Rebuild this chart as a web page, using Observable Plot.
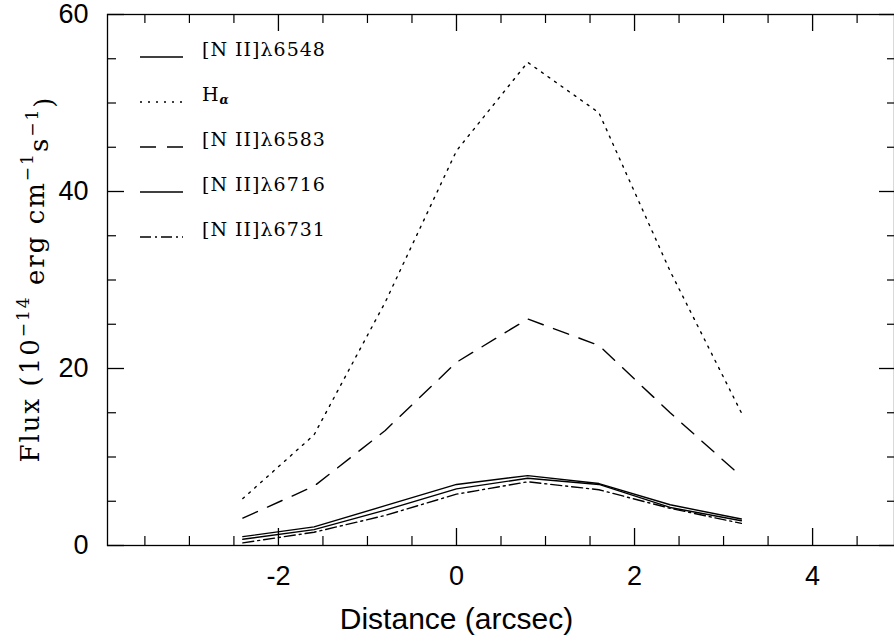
<!DOCTYPE html>
<html><head><meta charset="utf-8">
<script src="https://cdn.jsdelivr.net/npm/d3@7"></script>
<script src="https://cdn.jsdelivr.net/npm/@observablehq/plot@0.6"></script>
<style>body{margin:0;background:#fff}</style>
</head><body><div id="chart"></div>
<script>
// ---- data ----
const distance = [-2.4, -1.6, -0.8, 0, 0.8, 1.6, 2.4, 3.2];
const nii6548 = [1.0, 2.1, 4.5, 6.9, 7.9, 7.0, 4.6, 3.0];
const halpha  = [5.3, 12.5, 27.5, 44.6, 54.6, 48.9, 31.0, 15.0];
const nii6583 = [3.1, 6.7, 13.0, 20.7, 25.6, 22.6, 15.0, 7.8];
const nii6716 = [0.7, 1.8, 4.0, 6.4, 7.6, 6.9, 4.3, 2.8];
const nii6731 = [0.3, 1.5, 3.4, 5.8, 7.2, 6.3, 4.2, 2.5];
const seriesNames = ["[N II]λ6548", "Hα", "[N II]λ6583", "[N II]λ6716", "[N II]λ6731"];
const xTicksMajor = [-2, 0, 2, 4];
const xTicksMinor = [-3.5, -3, -2.5, -1.5, -1, -0.5, 0.5, 1, 1.5, 2.5, 3, 3.5, 4.5];
const yTicksMajor = [0, 20, 40, 60];
const yTicksMinor = [5, 10, 15, 25, 30, 35, 45, 50, 55];
const xTitle = "Distance (arcsec)";

// ---- build table ----
const seriesValues = [nii6548, halpha, nii6583, nii6716, nii6731];
const dashes = [null, "2,6", "16,11", null, "11,4,2,4"];
const rows = seriesNames.flatMap((name, i) =>
  distance.map((x, j) => ({series: name, x, y: seriesValues[i][j]})));

const blank = () => "";
const chart = Plot.plot({
  width: 894, height: 640,
  marginLeft: 107, marginRight: 0, marginTop: 14, marginBottom: 95,
  x: {domain: [-3.92, 4.92]},
  y: {domain: [0, 60]},
  style: {background: "white", color: "black", fontFamily: "'Liberation Sans', Arial, sans-serif"},
  marks: [
    Plot.frame({stroke: "black", strokeWidth: 1.3}),
    // bottom axis ticks (inward) and labels
    Plot.axisX(xTicksMinor, {anchor: "bottom", tickSize: -9, tickFormat: blank, label: null, strokeWidth: 1.2}),
    Plot.axisX(xTicksMajor, {anchor: "bottom", tickSize: -17, tickFormat: blank, label: null, strokeWidth: 1.3}),
    Plot.axisX(xTicksMajor, {anchor: "bottom", tickSize: 0, tickPadding: 20, tickFormat: d => String(d), fontSize: 27, label: null}),
    // top axis ticks
    Plot.axisX(xTicksMinor, {anchor: "top", tickSize: -8, tickFormat: blank, label: null, strokeWidth: 1.2}),
    Plot.axisX(xTicksMajor, {anchor: "top", tickSize: -16, tickFormat: blank, label: null, strokeWidth: 1.3}),
    // left axis
    Plot.axisY(yTicksMinor, {anchor: "left", tickSize: -9, tickFormat: blank, label: null, strokeWidth: 1.2}),
    Plot.axisY(yTicksMajor, {anchor: "left", tickSize: -17, tickFormat: blank, label: null, strokeWidth: 1.3}),
    Plot.axisY(yTicksMajor, {anchor: "left", tickSize: 0, tickPadding: 19, tickFormat: d => String(d), fontSize: 27, label: null}),
    // right axis
    Plot.axisY(yTicksMinor, {anchor: "right", tickSize: -8, tickFormat: blank, label: null, strokeWidth: 1.2}),
    Plot.axisY(yTicksMajor, {anchor: "right", tickSize: -16, tickFormat: blank, label: null, strokeWidth: 1.3}),
    // data
    ...seriesNames.map((name, i) => Plot.line(rows.filter(d => d.series === name), {
      x: "x", y: "y", stroke: "black", strokeWidth: 1.4,
      strokeDasharray: dashes[i]
    })),
    // x title
    Plot.text([xTitle], {x: () => 0, frameAnchor: "bottom", dy: 83, fontSize: 30, text: d => d})
  ]
});
document.getElementById("chart").appendChild(chart);

// ---- y-axis title with superscripts ----
const svg = d3.select(chart);
const yt = svg.append("text")
  .attr("transform", "translate(32,279) rotate(-90)")
  .attr("text-anchor", "middle")
  .attr("dominant-baseline", "middle")
  .style("font-family", "'DejaVu Serif', serif")
  .style("font-size", "26px")
  .style("letter-spacing", "2px")
  .attr("fill", "black");
yt.append("tspan").text("Flux (10");
yt.append("tspan").attr("dy", "-0.5em").style("font-size", "17px").text("−14");
yt.append("tspan").attr("dy", "0.5em").text(" erg cm");
yt.append("tspan").attr("dy", "-0.5em").style("font-size", "17px").text("−1");
yt.append("tspan").attr("dy", "0.5em").text("s");
yt.append("tspan").attr("dy", "-0.5em").style("font-size", "17px").text("−1");
yt.append("tspan").attr("dy", "0.5em").text(")");

// ---- legend ----
const lg = svg.append("g")
  .attr("text-anchor", "start")
  .style("font-family", "'DejaVu Serif', serif")
  .style("font-size", "19px")
  .style("letter-spacing", "1px");
seriesNames.forEach((name, i) => {
  const cy = 51 + i * 45;
  lg.append("line").attr("x1", 140).attr("x2", 183).attr("y1", cy + 6).attr("y2", cy + 6)
    .attr("stroke", "black").attr("stroke-width", 1.3)
    .attr("stroke-dasharray", dashes[i]);
  const t = lg.append("text").attr("x", 202).attr("y", cy)
    .attr("text-anchor", "start").attr("dominant-baseline", "middle").attr("fill", "black");
  if (name === "Hα") {
    t.append("tspan").text("H");
    t.append("tspan").attr("dy", "0.35em").style("font-size", "12px").style("font-weight", "bold").style("font-style", "italic").text("α");
  } else {
    t.text(name);
  }
});
</script>
</body></html>
